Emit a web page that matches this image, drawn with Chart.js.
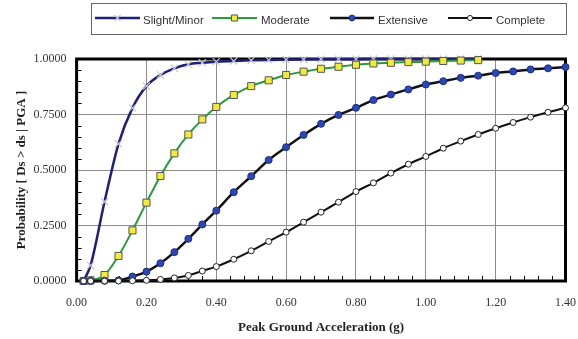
<!DOCTYPE html>
<html>
<head>
<meta charset="utf-8">
<script src="https://cdn.jsdelivr.net/npm/chart.js@4"></script>
<style>
  html, body { margin: 0; padding: 0; background: #fff; }
  #wrap { width: 578px; height: 339px; }
</style>
</head>
<body>
<div id="wrap"><canvas id="c" width="578" height="339"></canvas></div>
<script>
// ---- Data ----
const pga = [0.02, 0.04, 0.08, 0.12, 0.16, 0.20, 0.24, 0.28, 0.32, 0.36, 0.40,
  0.45, 0.50, 0.55, 0.60, 0.65, 0.70, 0.75, 0.80, 0.85, 0.90, 0.95, 1.00,
  1.05, 1.10, 1.15, 1.20, 1.25, 1.30, 1.35, 1.40];

const slightMinor = [0.000, 0.070, 0.357, 0.618, 0.780, 0.878, 0.928, 0.958, 0.976, 0.983, 0.988,
  0.991, 0.994, 0.996, 0.997, 0.998, 0.999, 0.999, 0.999, 1.000, 1.000, 1.000, 1.000,
  1.000, 1.000, 1.000];

const moderate = [0.000, 0.003, 0.027, 0.113, 0.228, 0.353, 0.473, 0.575, 0.660, 0.728, 0.784,
  0.838, 0.878, 0.904, 0.928, 0.943, 0.956, 0.965, 0.974, 0.980, 0.983, 0.986, 0.988,
  0.991, 0.993, 0.995];

const extensive = [0.000, 0.000, 0.001, 0.003, 0.020, 0.042, 0.080, 0.130, 0.190, 0.255, 0.317,
  0.400, 0.472, 0.545, 0.603, 0.658, 0.708, 0.748, 0.780, 0.815, 0.840, 0.863, 0.885,
  0.900, 0.915, 0.925, 0.937, 0.944, 0.953, 0.958, 0.964];

const complete = [0.000, 0.000, 0.000, 0.000, 0.001, 0.003, 0.007, 0.014, 0.025, 0.045, 0.065,
  0.098, 0.136, 0.178, 0.220, 0.265, 0.310, 0.355, 0.403, 0.442, 0.486, 0.526, 0.561,
  0.598, 0.630, 0.660, 0.688, 0.714, 0.738, 0.760, 0.780];

const seriesNames = ['Slight/Minor', 'Moderate', 'Extensive', 'Complete'];
const xTicks = [0.00, 0.20, 0.40, 0.60, 0.80, 1.00, 1.20, 1.40];
const yTicks = [0.0, 0.25, 0.5, 0.75, 1.0];

function pts(vals) { return vals.map((v, i) => ({ x: pga[i], y: v })); }

// ---- Styles ----
const styles = [
  { line: '#1d1f78', width: 2.5, ps: 'crossRot', r: 5, fill: '#ffffff', border: '#c8c8d0', bw: 1.2 },
  { line: '#2b9a3c', width: 2, ps: 'rect', r: 5, fill: '#f1ec3a', border: '#555555', bw: 1 },
  { line: '#111111', width: 2.5, ps: 'circle', r: 3.5, fill: '#2b46b6', border: '#1c2d88', bw: 1 },
  { line: '#111111', width: 2, ps: 'circle', r: 3, fill: '#ffffff', border: '#222222', bw: 1 }
];
const seriesData = [slightMinor, moderate, extensive, complete];

const datasets = seriesData.map((vals, i) => ({
  label: seriesNames[i],
  data: pts(vals),
  borderColor: styles[i].line,
  borderWidth: styles[i].width,
  pointStyle: styles[i].ps,
  pointRadius: styles[i].r,
  pointBackgroundColor: styles[i].fill,
  pointBorderColor: styles[i].border,
  pointBorderWidth: styles[i].bw,
  cubicInterpolationMode: 'monotone',
  fill: false,
  clip: false,
  order: 4 - i
}));

// ---- Plugins ----
const framePlugin = {
  id: 'frame',
  beforeDatasetsDraw(chart) {
    const { ctx, chartArea: a, scales } = chart;
    ctx.save();
    ctx.strokeStyle = '#000';
    ctx.lineWidth = 1;
    ctx.beginPath();
    for (let k = 1; k < 35; k++) {
      if (k % 5 === 0) continue;
      const px = Math.round(scales.x.getPixelForValue(k * 0.04)) + 0.5;
      ctx.moveTo(px, a.bottom);
      ctx.lineTo(px, a.bottom - 5);
    }
    for (let k = 1; k < 20; k++) {
      if (k % 5 === 0) continue;
      const py = Math.round(scales.y.getPixelForValue(k * 0.05)) + 0.5;
      ctx.moveTo(a.left, py);
      ctx.lineTo(a.left + 5, py);
    }
    ctx.stroke();
    ctx.lineWidth = 3;
    ctx.strokeStyle = '#000';
    ctx.strokeRect(a.left, a.top, a.right - a.left, a.bottom - a.top);
    ctx.restore();
  }
};

const legendPlugin = {
  id: 'boxLegend',
  afterDraw(chart) {
    const { ctx } = chart;
    ctx.save();
    ctx.strokeStyle = '#666';
    ctx.lineWidth = 1;
    ctx.strokeRect(91.5, 3.5, 475, 31);
    const items = [
      { x0: 95, x1: 140, tx: 143 },
      { x0: 212, x1: 257, tx: 261 },
      { x0: 330, x1: 374, tx: 378 },
      { x0: 448, x1: 492, tx: 496 }
    ];
    const ly = 18;
    chart.data.datasets.forEach((ds, i) => {
      const it = items[i];
      ctx.strokeStyle = ds.borderColor;
      ctx.lineWidth = ds.borderWidth;
      ctx.beginPath();
      ctx.moveTo(it.x0, ly);
      ctx.lineTo(it.x1, ly);
      ctx.stroke();
      ctx.fillStyle = ds.pointBackgroundColor;
      ctx.strokeStyle = ds.pointBorderColor;
      ctx.lineWidth = ds.pointBorderWidth;
      Chart.helpers.drawPoint(ctx, {
        pointStyle: ds.pointStyle,
        radius: ds.pointRadius * 0.85,
        rotation: 0,
        borderWidth: ds.pointBorderWidth
      }, (it.x0 + it.x1) / 2, ly);
      ctx.fillStyle = '#333';
      ctx.font = '11.5px "Liberation Sans", Arial, sans-serif';
      ctx.textBaseline = 'middle';
      ctx.textAlign = 'left';
      ctx.fillText(ds.label, it.tx, 21);
    });
    ctx.restore();
  }
};

const serif = '"Liberation Serif", "Times New Roman", serif';

new Chart(document.getElementById('c'), {
  type: 'line',
  data: { datasets },
  options: {
    responsive: false,
    animation: false,
    devicePixelRatio: 1,
    layout: { padding: { top: 59, right: 0, bottom: 2, left: 10 } },
    plugins: {
      legend: { display: false },
      tooltip: { enabled: false }
    },
    elements: { line: { tension: 0 } },
    scales: {
      x: {
        type: 'linear',
        min: 0, max: 1.4,
        afterBuildTicks(scale) { scale.ticks = xTicks.map(v => ({ value: v })); },
        ticks: {
          padding: 2,
          color: '#333',
          font: { family: serif, size: 12 },
          maxRotation: 0,
          callback: v => Number(v).toFixed(2)
        },
        grid: { color: '#8c8c8c', lineWidth: 1, drawTicks: true, tickLength: 13, tickColor: 'rgba(0,0,0,0)' },
        border: { display: false },
        title: {
          display: true,
          text: 'Peak Ground Acceleration (g)',
          color: '#222',
          font: { family: serif, size: 13, weight: 'bold' },
          padding: { top: 7, bottom: 2 }
        }
      },
      y: {
        type: 'linear',
        min: 0, max: 1,
        afterBuildTicks(scale) { scale.ticks = yTicks.map(v => ({ value: v })); },
        ticks: {
          padding: 10,
          color: '#333',
          font: { family: serif, size: 12 },
          callback: v => Number(v).toFixed(4)
        },
        grid: { color: '#8c8c8c', lineWidth: 1, drawTicks: false },
        border: { display: false },
        title: {
          display: true,
          text: 'Probability [ Ds > ds | PGA ]',
          color: '#222',
          font: { family: serif, size: 13, weight: 'bold' },
          padding: { top: 4, bottom: -6 }
        }
      }
    }
  },
  plugins: [framePlugin, legendPlugin]
});
</script>
</body>
</html>
